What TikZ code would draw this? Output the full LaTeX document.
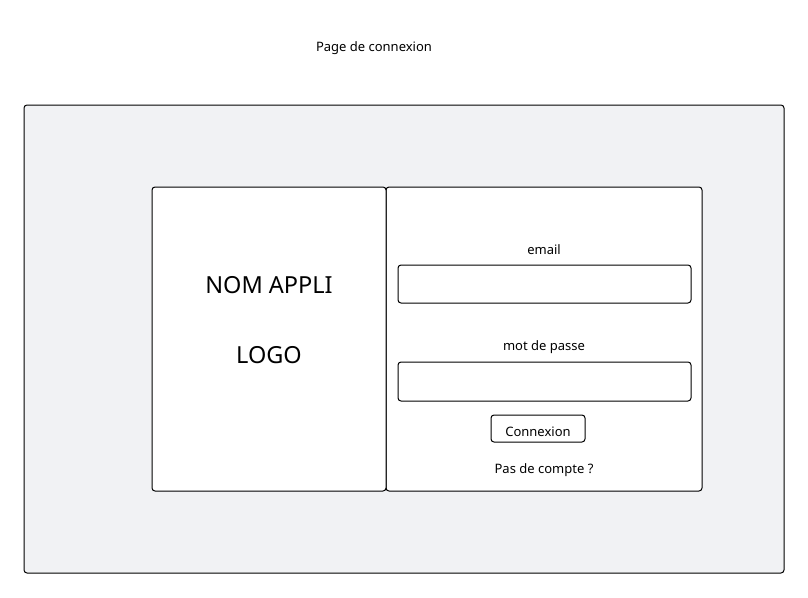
\documentclass[tikz,border=0pt]{standalone}
\usepackage{fontspec}
\setmainfont{Noto Sans}
\definecolor{bgframe}{HTML}{F1F2F4}
\begin{document}
\begin{tikzpicture}[x=1pt,y=-1pt,
  frame/.style={draw=black, line width=1pt, rounded corners=3pt},
  small/.style={font=\fontsize{13}{15}\selectfont, inner sep=0pt},
  big/.style={font=\fontsize{23.5}{27}\selectfont, inner sep=0pt}]
\useasboundingbox (0,0) rectangle (808,597);
\fill[white] (0,0) rectangle (808,597);
\draw[frame, fill=bgframe] (24,105) rectangle (784,573);
\node[small] (title) at (374,48) {Page de connexion};
\draw[frame, fill=white] (386,187) rectangle (702,491);
\draw[frame, fill=white] (152,187) rectangle (386,491);
\node[big] (nom) at (269,285) {NOM APPLI};
\node[big] (logo) at (269,355) {LOGO};
\node[small] (email) at (544,250) {email};
\draw[frame] (398,265) rectangle (691,303);
\node[small] (mdp) at (544,347) {mot de passe};
\draw[frame] (398,362) rectangle (691,401);
\draw[frame] (491,415) rectangle (585,442);
\node[small] (btn) at (538,432) {Connexion};
\node[small] (pas) at (544,470) {Pas de compte ?};
\end{tikzpicture}
\end{document}
